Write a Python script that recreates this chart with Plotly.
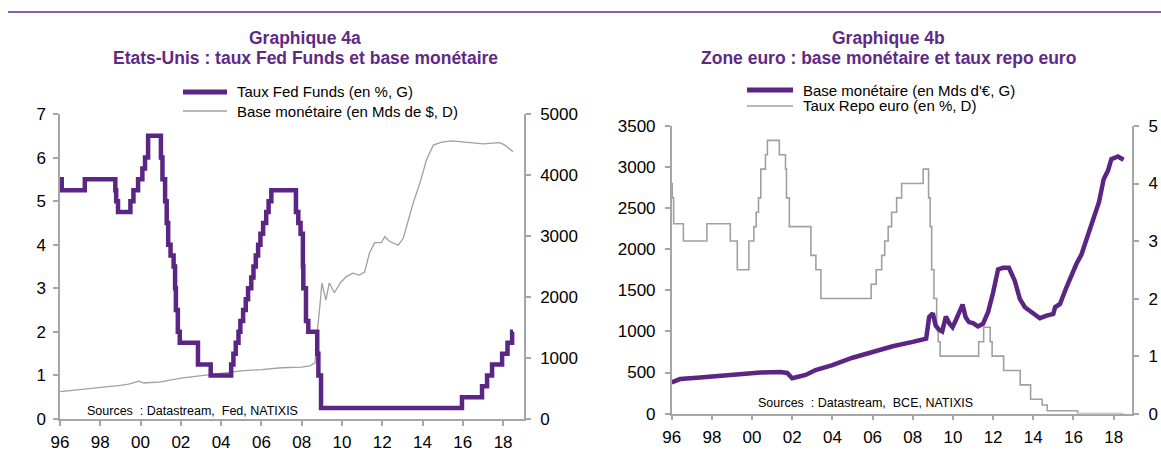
import plotly.graph_objects as go

# ---------------- Data ----------------
# Graphique 4a : Fed Funds target rate (%), step changes
fed_dates = ["1996-01-01", "1996-02-01", "1997-03-26", "1998-09-30", "1998-10-16", "1998-11-18",
             "1999-07-01", "1999-08-25", "1999-11-17", "2000-02-03", "2000-03-22", "2000-05-17",
             "2001-01-04", "2001-02-01", "2001-03-21", "2001-04-19", "2001-05-16", "2001-06-28",
             "2001-08-22", "2001-09-18", "2001-10-03", "2001-11-07", "2001-12-12", "2002-11-07",
             "2003-06-26", "2004-07-01", "2004-08-11", "2004-09-22", "2004-11-11", "2004-12-15",
             "2005-02-03", "2005-03-23", "2005-05-04", "2005-07-01", "2005-08-10", "2005-09-21",
             "2005-11-02", "2005-12-14", "2006-02-01", "2006-03-29", "2006-05-11", "2006-06-30",
             "2007-09-19", "2007-11-01", "2007-12-12", "2008-01-23", "2008-01-31", "2008-03-19",
             "2008-04-30", "2008-10-09", "2008-10-30", "2008-12-17", "2015-12-17", "2016-12-15",
             "2017-03-16", "2017-06-15", "2017-12-14", "2018-03-22", "2018-06-14", "2018-06-30"]
fed_rate = [5.5, 5.25, 5.5, 5.25, 5.0, 4.75,
            5.0, 5.25, 5.5, 5.75, 6.0, 6.5,
            6.0, 5.5, 5.0, 4.5, 4.0, 3.75,
            3.5, 3.0, 2.5, 2.0, 1.75, 1.25,
            1.0, 1.25, 1.5, 1.75, 2.0, 2.25,
            2.5, 2.75, 3.0, 3.25, 3.5, 3.75,
            4.0, 4.25, 4.5, 4.75, 5.0, 5.25,
            4.75, 4.5, 4.25, 3.5, 3.0, 2.25,
            2.0, 1.5, 1.0, 0.25, 0.5, 0.75,
            1.0, 1.25, 1.5, 1.75, 2.0, 2.0]

# Graphique 4a : US monetary base (Mds $)
us_base_dates = ["1996-01-01", "1997-01-01", "1998-01-01", "1999-01-01", "1999-06-01", "1999-12-01",
                 "2000-03-01", "2001-01-01", "2002-01-01", "2003-01-01", "2004-01-01", "2005-01-01",
                 "2006-01-01", "2007-01-01", "2008-01-01", "2008-06-01", "2008-09-01", "2008-10-01",
                 "2008-12-01", "2009-01-01", "2009-03-15", "2009-05-15", "2009-08-15", "2009-12-01",
                 "2010-03-15", "2010-07-15", "2010-11-15", "2011-02-15", "2011-05-15", "2011-08-15",
                 "2011-12-15", "2012-02-15", "2012-05-15", "2012-10-15", "2013-01-15", "2013-04-15",
                 "2013-07-15", "2013-11-15", "2014-03-15", "2014-07-15", "2014-12-15", "2015-06-15",
                 "2016-03-15", "2017-01-01", "2017-11-01", "2018-02-01", "2018-06-30"]
us_base = [450, 480, 510, 550, 570, 620,
           590, 610, 670, 710, 750, 790,
           810, 840, 850, 870, 920, 1350,
           1900, 2230, 1950, 2230, 2070, 2230,
           2330, 2390, 2360, 2410, 2720, 2890,
           2890, 2990, 2910, 2850, 2960, 3260,
           3540, 3870, 4250, 4490, 4540, 4560,
           4540, 4510, 4530, 4490, 4380]

# Graphique 4b : euro area monetary base (Mds EUR)
ez_base_dates = ["1996-01-01", "1996-06-01", "1997-06-01", "1998-06-01", "1999-06-01", "2000-06-01",
                 "2001-06-01", "2001-10-01", "2002-01-01", "2002-04-01", "2002-09-01", "2003-03-01",
                 "2004-01-01", "2005-01-01", "2006-01-01", "2007-01-01", "2008-01-01", "2008-09-01",
                 "2008-10-25", "2008-12-31", "2009-02-20", "2009-04-20", "2009-06-20", "2009-08-25",
                 "2009-10-25", "2009-12-25", "2010-02-20", "2010-04-20", "2010-06-25", "2010-08-20",
                 "2010-10-20", "2011-01-01", "2011-04-01", "2011-07-01", "2011-10-01", "2012-01-01",
                 "2012-04-01", "2012-07-01", "2012-10-15", "2013-01-30", "2013-05-01", "2013-08-01",
                 "2013-12-01", "2014-02-01", "2014-05-01", "2014-09-01", "2014-12-31", "2015-02-01",
                 "2015-05-01", "2015-08-25", "2015-12-25", "2016-02-25", "2016-05-25", "2016-09-25",
                 "2017-01-20", "2017-04-10", "2017-07-05", "2017-09-20", "2017-11-20", "2018-03-20",
                 "2018-06-30"]
ez_base = [380, 420, 440, 460, 480, 500,
           505, 495, 430, 445, 470, 530,
           590, 680, 750, 820, 873, 913,
           1174, 1222, 1073, 1022, 1001, 1181,
           1101, 1053, 1133, 1222, 1326, 1173,
           1113, 1101, 1061, 1093, 1233, 1474,
           1755, 1775, 1775, 1615, 1395, 1294,
           1233, 1214, 1161, 1193, 1214, 1294,
           1334, 1534, 1735, 1823, 1936, 2176,
           2436, 2576, 2856, 2957, 3096, 3129,
           3089]

# Graphique 4b : repo rate (%), step changes
repo_dates = ["1996-01-01", "1996-01-10", "1996-02-05", "1996-08-01", "1997-10-01", "1998-12-01",
              "1999-04-08", "1999-11-04", "2000-02-03", "2000-03-16", "2000-04-27", "2000-06-08",
              "2000-09-01", "2000-10-06", "2001-05-11", "2001-08-31", "2001-09-18", "2001-11-09",
              "2002-12-06", "2003-03-07", "2003-06-06", "2005-12-06", "2006-03-08", "2006-06-15",
              "2006-08-09", "2006-10-11", "2006-12-13", "2007-03-14", "2007-06-13", "2008-07-09",
              "2008-10-15", "2008-11-12", "2008-12-10", "2009-01-21", "2009-03-11", "2009-04-08",
              "2009-05-13", "2011-04-13", "2011-07-13", "2011-11-09", "2011-12-14", "2012-07-11",
              "2013-05-08", "2013-11-13", "2014-06-11", "2014-09-10", "2016-03-16", "2018-06-30"]
repo_rate = [4.0, 3.75, 3.3, 3.0, 3.3, 3.0,
             2.5, 3.0, 3.25, 3.5, 3.75, 4.25,
             4.5, 4.75, 4.5, 4.25, 3.75, 3.25,
             2.75, 2.5, 2.0, 2.25, 2.5, 2.75,
             3.0, 3.25, 3.5, 3.75, 4.0, 4.25,
             3.75, 3.25, 2.5, 2.0, 1.5, 1.25,
             1.0, 1.25, 1.5, 1.25, 1.0, 0.75,
             0.5, 0.25, 0.15, 0.05, 0.0, 0.0]

x_tick_vals = ["1996-01-01", "1998-01-01", "2000-01-01", "2002-01-01", "2004-01-01", "2006-01-01",
               "2008-01-01", "2010-01-01", "2012-01-01", "2014-01-01", "2016-01-01", "2018-01-01"]
x_tick_text = ["96", "98", "00", "02", "04", "06", "08", "10", "12", "14", "16", "18"]

# ---------------- Styling ----------------
W, H = 1161, 456
PURPLE = "#5B2583"
TITLE_PURPLE = "#5F2A86"
GRAY = "#A0A0A0"
AXIS = "#A6A6A6"
FONT = "Liberation Sans, Arial, sans-serif"

def px(x):
    return x / W

def py(y):
    return 1 - y / H

fig = go.Figure()

fig.add_trace(go.Scatter(x=us_base_dates, y=us_base, mode="lines", line=dict(color=GRAY, width=1.3),
                         xaxis="x", yaxis="y", name="Base monétaire (en Mds de $, D)", showlegend=False))
fig.add_trace(go.Scatter(x=fed_dates, y=fed_rate, mode="lines", line=dict(color=PURPLE, width=4.5, shape="hv"),
                         xaxis="x", yaxis="y2", name="Taux Fed Funds (en %, G)", showlegend=False))
fig.add_trace(go.Scatter(x=repo_dates, y=repo_rate, mode="lines", line=dict(color=GRAY, width=1.6, shape="hv"),
                         xaxis="x2", yaxis="y3", name="Taux Repo euro (en %, D)", showlegend=False))
fig.add_trace(go.Scatter(x=ez_base_dates, y=ez_base, mode="lines", line=dict(color=PURPLE, width=4.5),
                         xaxis="x2", yaxis="y4", name="Base monétaire (en Mds d'€, G)", showlegend=False))

tickfont = dict(family=FONT, size=17, color="#000000")
common_axis = dict(showgrid=False, zeroline=False, showline=True, linecolor=AXIS, linewidth=1.5,
                   ticks="outside", ticklen=5, tickcolor=AXIS, tickwidth=1.5, tickfont=tickfont,
                   automargin=False)

xl = (60, 524)
xr = (671.7, 1132.3)
yl = (419, 114)
yr = (413.6, 126)

fig.update_layout(
    width=W, height=H, autosize=False,
    margin=dict(l=0, r=0, t=0, b=0, autoexpand=False),
    paper_bgcolor="white", plot_bgcolor="white",
    showlegend=False,
    font=dict(family=FONT),
    xaxis=dict(domain=[px(xl[0]), px(xl[1])], anchor="y", type="date",
               range=["1996-01-01", "2019-01-15"], tickvals=x_tick_vals, ticktext=x_tick_text,
               ticklabelstandoff=2, **common_axis),
    yaxis=dict(domain=[py(yl[0]), py(yl[1])], anchor="x", side="right", range=[0, 5000], dtick=1000,
               ticklabelstandoff=6, **common_axis),
    yaxis2=dict(domain=[py(yl[0]), py(yl[1])], anchor="x", overlaying="y", side="left", range=[0, 7], dtick=1,
                ticklabelstandoff=4, **common_axis),
    xaxis2=dict(domain=[px(xr[0]), px(xr[1])], anchor="y3", type="date",
                range=["1996-01-01", "2018-12-06"], tickvals=x_tick_vals, ticktext=x_tick_text,
                ticklabelstandoff=2, **common_axis),
    yaxis3=dict(domain=[py(yr[0]), py(yr[1])], anchor="x2", side="right", range=[0, 5], dtick=1,
                ticklabelstandoff=6, **common_axis),
    yaxis4=dict(domain=[py(yr[0]), py(yr[1])], anchor="x2", overlaying="y3", side="left", range=[0, 3500], dtick=500,
                ticklabelstandoff=6, **common_axis),
)

annotations = []
shapes = []

# Top rule
shapes.append(dict(type="line", xref="paper", yref="paper", x0=px(8), x1=px(1161), y0=py(12), y1=py(12),
                   line=dict(color=TITLE_PURPLE, width=1.5)))

title_font = dict(family=FONT, size=17.5, color=TITLE_PURPLE)
for cx, t1, t2 in [(305, "Graphique 4a", "Etats-Unis : taux Fed Funds et base monétaire"),
                   (888, "Graphique 4b", "Zone euro : base monétaire et taux repo euro")]:
    annotations.append(dict(x=px(cx), y=py(38), xref="paper", yref="paper", text="<b>%s</b>" % t1,
                            showarrow=False, xanchor="center", yanchor="middle", font=title_font))
    annotations.append(dict(x=px(cx), y=py(58), xref="paper", yref="paper", text="<b>%s</b>" % t2,
                            showarrow=False, xanchor="center", yanchor="middle", font=title_font))

leg_font = dict(family=FONT, size=15, color="#000000")
legend_items = [
    (183, 227, 235, 92, PURPLE, 5, "Taux Fed Funds (en %, G)"),
    (183, 227, 235, 111, GRAY, 1.5, "Base monétaire (en Mds de $, D)"),
    (747, 793, 801, 90, PURPLE, 5, "Base monétaire (en Mds d'€, G)"),
    (747, 793, 801, 106, GRAY, 1.5, "Taux Repo euro (en %, D)"),
]
for x0, x1, tx, yy, col, wd, txt in legend_items:
    shapes.append(dict(type="line", xref="paper", yref="paper", x0=px(x0), x1=px(x1), y0=py(yy), y1=py(yy),
                       line=dict(color=col, width=wd)))
    annotations.append(dict(x=px(tx), y=py(yy), xref="paper", yref="paper", text=txt, showarrow=False,
                            xanchor="left", yanchor="middle", font=leg_font))

src_font = dict(family=FONT, size=12.5, color="#000000")
annotations.append(dict(x=px(85), y=py(411), xref="paper", yref="paper",
                        text="Sources  : Datastream,  Fed, NATIXIS", showarrow=False,
                        xanchor="left", yanchor="middle", font=src_font))
annotations.append(dict(x=px(756), y=py(403), xref="paper", yref="paper",
                        text="Sources  : Datastream,  BCE, NATIXIS", showarrow=False,
                        xanchor="left", yanchor="middle", font=src_font))

fig.update_layout(annotations=annotations, shapes=shapes)

fig.write_html("out.html", config={"displayModeBar": False},
               post_script="document.body.style.margin='0';document.body.style.overflow='hidden';")
